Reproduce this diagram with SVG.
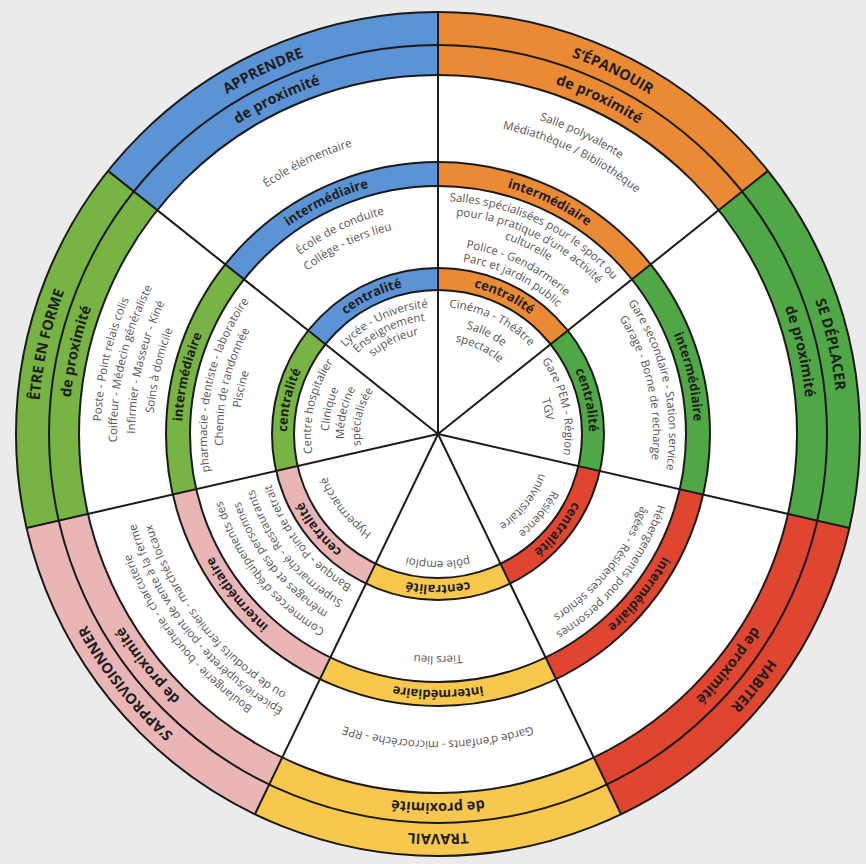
<svg xmlns="http://www.w3.org/2000/svg" width="866" height="864" viewBox="0 0 866 864">
  <style>
    .b-out { stroke-width: 33; }
    .b-prox { stroke-width: 30; }
    .b-mid { stroke-width: 24; }
    .b-cen { stroke-width: 22; }
    text { font-family: "Open Sans", "Liberation Sans", sans-serif; text-anchor: middle; }
    .t-theme { font-size: 14.5px; font-weight: 700; fill: #1e1e1e; }
    .t-prox { font-size: 14.5px; font-weight: 700; fill: #1e1e1e; }
    .t-level { font-size: 13px; font-weight: 700; fill: #1e1e1e; }
    .t-item { font-size: 11.5px; fill: #555555; }
    .rings circle { fill: none; stroke: #1a1a1a; stroke-width: 2; }
    .rays line { stroke: #1a1a1a; stroke-width: 2; }
  </style>
  <defs>
    <!-- band arcs for one sector (from -90deg to -38.571deg), centred on the origin -->
    <path id="arcOut" d="M0,-405.5 A405.5,405.5 0 0 1 317.03,-252.83"/>
    <path id="arcProx" d="M0,-374 A374,374 0 0 1 292.40,-233.19"/>
    <path id="arcMid" d="M0,-260 A260,260 0 0 1 203.28,-162.11"/>
    <path id="arcCen" d="M0,-155 A155,155 0 0 1 121.18,-96.64"/>
    <!-- clockwise text baselines centred on the top of the circle -->
    <path id="r78" d="M-75.34,-20.19 A78,78 0 0 1 75.34,-20.19"/>
    <path id="r94" d="M-90.80,-24.33 A94,94 0 0 1 90.80,-24.33"/>
    <path id="r101" d="M-97.56,-26.14 A101,101 0 0 1 97.56,-26.14"/>
    <path id="r109" d="M-105.29,-28.21 A109,109 0 0 1 105.29,-28.21"/>
    <path id="r114" d="M-110.12,-29.51 A114,114 0 0 1 110.12,-29.51"/>
    <path id="r119" d="M-114.95,-30.80 A119,119 0 0 1 114.95,-30.80"/>
    <path id="r127" d="M-122.67,-32.87 A127,127 0 0 1 122.67,-32.87"/>
    <path id="r151" d="M-145.86,-39.08 A151,151 0 0 1 145.86,-39.08"/>
    <path id="r174" d="M-168.07,-45.03 A174,174 0 0 1 168.07,-45.03"/>
    <path id="r188" d="M-181.59,-48.66 A188,188 0 0 1 181.59,-48.66"/>
    <path id="r192" d="M-185.46,-49.69 A192,192 0 0 1 185.46,-49.69"/>
    <path id="r199" d="M-192.22,-51.51 A199,199 0 0 1 192.22,-51.51"/>
    <path id="r206" d="M-198.98,-53.32 A206,206 0 0 1 198.98,-53.32"/>
    <path id="r209" d="M-201.88,-54.09 A209,209 0 0 1 201.88,-54.09"/>
    <path id="r215" d="M-207.67,-55.65 A215,215 0 0 1 207.67,-55.65"/>
    <path id="r219" d="M-211.54,-56.68 A219,219 0 0 1 211.54,-56.68"/>
    <path id="r222" d="M-214.44,-57.46 A222,222 0 0 1 214.44,-57.46"/>
    <path id="r226" d="M-218.30,-58.49 A226,226 0 0 1 218.30,-58.49"/>
    <path id="r231" d="M-223.13,-59.79 A231,231 0 0 1 223.13,-59.79"/>
    <path id="r233" d="M-225.06,-60.31 A233,233 0 0 1 225.06,-60.31"/>
    <path id="r256" d="M-247.28,-66.26 A256,256 0 0 1 247.28,-66.26"/>
    <path id="r285" d="M-275.29,-73.76 A285,285 0 0 1 275.29,-73.76"/>
    <path id="r300" d="M-289.78,-77.65 A300,300 0 0 1 289.78,-77.65"/>
    <path id="r303" d="M-292.68,-78.42 A303,303 0 0 1 292.68,-78.42"/>
    <path id="r307" d="M-296.54,-79.46 A307,307 0 0 1 296.54,-79.46"/>
    <path id="r312" d="M-301.37,-80.75 A312,312 0 0 1 301.37,-80.75"/>
    <path id="r315" d="M-304.27,-81.53 A315,315 0 0 1 304.27,-81.53"/>
    <path id="r321" d="M-310.06,-83.08 A321,321 0 0 1 310.06,-83.08"/>
    <path id="r330" d="M-318.76,-85.41 A330,330 0 0 1 318.76,-85.41"/>
    <path id="r337" d="M-325.52,-87.22 A337,337 0 0 1 325.52,-87.22"/>
    <path id="r369" d="M-356.43,-95.50 A369,369 0 0 1 356.43,-95.50"/>
    <path id="r400" d="M-386.37,-103.53 A400,400 0 0 1 386.37,-103.53"/>
  </defs>

  <rect width="866" height="864" fill="#ebebeb"/>
  <circle cx="438" cy="434" r="422" fill="#ffffff"/>

  <!-- S'ÉPANOUIR -->
  <g id="s-epanouir" transform="translate(438 434)">
    <g stroke="#ea8a35" fill="none">
      <use href="#arcOut" class="b-out"/>
      <use href="#arcProx" class="b-prox"/>
      <use href="#arcMid" class="b-mid"/>
      <use href="#arcCen" class="b-cen"/>
    </g>
    <g transform="rotate(25.7143)">
      <text class="t-theme"><textPath href="#r400" startOffset="50%">S’ÉPANOUIR</textPath></text>
      <text class="t-prox"><textPath href="#r369" startOffset="50%">de proximité</textPath></text>
      <text class="t-item"><textPath href="#r330" startOffset="50%">Salle polyvalente</textPath></text>
      <text class="t-item"><textPath href="#r312" startOffset="50%">Médiathèque / Bibliothèque</textPath></text>
      <text class="t-level"><textPath href="#r256" startOffset="50%">intermédiaire</textPath></text>
      <text class="t-item"><textPath href="#r233" startOffset="50%">Salles spécialisées pour le sport ou</textPath></text>
      <text class="t-item"><textPath href="#r219" startOffset="50%">pour la pratique d’une activité</textPath></text>
      <text class="t-item"><textPath href="#r206" startOffset="50%">culturelle</textPath></text>
      <text class="t-item"><textPath href="#r188" startOffset="50%">Police - Gendarmerie</textPath></text>
      <text class="t-item"><textPath href="#r174" startOffset="50%">Parc et jardin public</textPath></text>
      <text class="t-level"><textPath href="#r151" startOffset="50%">centralité</textPath></text>
      <text class="t-item"><textPath href="#r127" startOffset="50%">Cinéma - Théâtre</textPath></text>
      <text class="t-item"><textPath href="#r109" startOffset="50%">Salle de</textPath></text>
      <text class="t-item"><textPath href="#r94" startOffset="50%">spectacle</textPath></text>
    </g>
  </g>

  <!-- SE DÉPLACER -->
  <g id="se-deplacer" transform="translate(438 434) rotate(51.4286)">
    <g stroke="#4fa845" fill="none">
      <use href="#arcOut" class="b-out"/>
      <use href="#arcProx" class="b-prox"/>
      <use href="#arcMid" class="b-mid"/>
      <use href="#arcCen" class="b-cen"/>
    </g>
    <g transform="rotate(25.7143)">
      <text class="t-theme"><textPath href="#r400" startOffset="50%">SE DÉPLACER</textPath></text>
      <text class="t-prox"><textPath href="#r369" startOffset="50%">de proximité</textPath></text>
      <text class="t-level"><textPath href="#r256" startOffset="50%">intermédiaire</textPath></text>
      <text class="t-item"><textPath href="#r231" startOffset="50%">Gare secondaire - Station service</textPath></text>
      <text class="t-item"><textPath href="#r215" startOffset="50%">Garage - Borne de recharge</textPath></text>
      <text class="t-level"><textPath href="#r151" startOffset="50%">centralité</textPath></text>
      <text class="t-item"><textPath href="#r127" startOffset="50%">Gare PEM - Région</textPath></text>
      <text class="t-item"><textPath href="#r109" startOffset="50%">TGV</textPath></text>
    </g>
  </g>

  <!-- HABITER -->
  <g id="habiter" transform="translate(438 434) rotate(102.8571)">
    <g stroke="#e0452f" fill="none">
      <use href="#arcOut" class="b-out"/>
      <use href="#arcProx" class="b-prox"/>
      <use href="#arcMid" class="b-mid"/>
      <use href="#arcCen" class="b-cen"/>
    </g>
    <g transform="rotate(25.7143)">
      <text class="t-theme"><textPath href="#r400" startOffset="50%">HABITER</textPath></text>
      <text class="t-prox"><textPath href="#r369" startOffset="50%">de proximité</textPath></text>
      <text class="t-level"><textPath href="#r256" startOffset="50%">intermédiaire</textPath></text>
      <text class="t-item"><textPath href="#r231" startOffset="50%">Hébergements pour personnes</textPath></text>
      <text class="t-item"><textPath href="#r215" startOffset="50%">âgées - Résidences séniors</textPath></text>
      <text class="t-level"><textPath href="#r151" startOffset="50%">centralité</textPath></text>
      <text class="t-item"><textPath href="#r127" startOffset="50%">Résidence</textPath></text>
      <text class="t-item"><textPath href="#r109" startOffset="50%">universitaire</textPath></text>
    </g>
  </g>

  <!-- TRAVAIL -->
  <g id="travail" transform="translate(438 434) rotate(154.2857)">
    <g stroke="#f7c84d" fill="none">
      <use href="#arcOut" class="b-out"/>
      <use href="#arcProx" class="b-prox"/>
      <use href="#arcMid" class="b-mid"/>
      <use href="#arcCen" class="b-cen"/>
    </g>
    <g transform="rotate(25.7143)">
      <text class="t-theme"><textPath href="#r400" startOffset="50%">TRAVAIL</textPath></text>
      <text class="t-prox"><textPath href="#r369" startOffset="50%">de proximité</textPath></text>
      <text class="t-item"><textPath href="#r307" startOffset="50%">Garde d’enfants - microcrèche - RPE</textPath></text>
      <text class="t-level"><textPath href="#r256" startOffset="50%">intermédiaire</textPath></text>
      <text class="t-item"><textPath href="#r222" startOffset="50%">Tiers lieu</textPath></text>
      <text class="t-level"><textPath href="#r151" startOffset="50%">centralité</textPath></text>
      <text class="t-item"><textPath href="#r127" startOffset="50%">pôle emploi</textPath></text>
    </g>
  </g>

  <!-- S'APPROVISIONNER -->
  <g id="s-approvisionner" transform="translate(438 434) rotate(205.7143)">
    <g stroke="#e9b6b5" fill="none">
      <use href="#arcOut" class="b-out"/>
      <use href="#arcProx" class="b-prox"/>
      <use href="#arcMid" class="b-mid"/>
      <use href="#arcCen" class="b-cen"/>
    </g>
    <g transform="rotate(25.7143)">
      <text class="t-theme"><textPath href="#r400" startOffset="50%">S’APPROVISIONNER</textPath></text>
      <text class="t-prox"><textPath href="#r369" startOffset="50%">de proximité</textPath></text>
      <text class="t-item"><textPath href="#r330" startOffset="50%">Boulangerie - boucherie - charcuterie</textPath></text>
      <text class="t-item"><textPath href="#r315" startOffset="50%">Épicerie/supérette - point de vente à la ferme</textPath></text>
      <text class="t-item"><textPath href="#r300" startOffset="50%">ou de produits fermiers - marchés locaux</textPath></text>
      <text class="t-level"><textPath href="#r256" startOffset="50%">intermédiaire</textPath></text>
      <text class="t-item"><textPath href="#r226" startOffset="50%">Commerces d’équipements des</textPath></text>
      <text class="t-item"><textPath href="#r209" startOffset="50%">ménages et des personnes</textPath></text>
      <text class="t-item"><textPath href="#r192" startOffset="50%">Supermarché - Restaurants</textPath></text>
      <text class="t-item"><textPath href="#r174" startOffset="50%">Banque - Point de retrait</textPath></text>
      <text class="t-level"><textPath href="#r151" startOffset="50%">centralité</textPath></text>
      <text class="t-item"><textPath href="#r119" startOffset="50%">Hypermarché</textPath></text>
    </g>
  </g>

  <!-- ÊTRE EN FORME -->
  <g id="etre-en-forme" transform="translate(438 434) rotate(257.1429)">
    <g stroke="#78b443" fill="none">
      <use href="#arcOut" class="b-out"/>
      <use href="#arcProx" class="b-prox"/>
      <use href="#arcMid" class="b-mid"/>
      <use href="#arcCen" class="b-cen"/>
    </g>
    <g transform="rotate(25.7143)">
      <text class="t-theme"><textPath href="#r400" startOffset="50%">ÊTRE EN FORME</textPath></text>
      <text class="t-prox"><textPath href="#r369" startOffset="50%">de proximité</textPath></text>
      <text class="t-item"><textPath href="#r337" startOffset="50%">Poste - Point relais colis</textPath></text>
      <text class="t-item"><textPath href="#r321" startOffset="50%">Coiffeur - Médecin généraliste</textPath></text>
      <text class="t-item"><textPath href="#r303" startOffset="50%">Infirmier - Masseur - Kiné</textPath></text>
      <text class="t-item"><textPath href="#r285" startOffset="50%">Soins à domicile</textPath></text>
      <text class="t-level"><textPath href="#r256" startOffset="50%">intermédiaire</textPath></text>
      <text class="t-item"><textPath href="#r231" startOffset="50%">pharmacie - dentiste - laboratoire</textPath></text>
      <text class="t-item"><textPath href="#r215" startOffset="50%">Chemin de randonnée</textPath></text>
      <text class="t-item"><textPath href="#r199" startOffset="50%">Piscine</textPath></text>
      <text class="t-level"><textPath href="#r151" startOffset="50%">centralité</textPath></text>
      <text class="t-item"><textPath href="#r127" startOffset="50%">Centre hospitalier</textPath></text>
      <text class="t-item"><textPath href="#r109" startOffset="50%">Clinique</textPath></text>
      <text class="t-item"><textPath href="#r94" startOffset="50%">Médecine</textPath></text>
      <text class="t-item"><textPath href="#r78" startOffset="50%">spécialisée</textPath></text>
    </g>
  </g>

  <!-- APPRENDRE -->
  <g id="apprendre" transform="translate(438 434) rotate(308.5714)">
    <g stroke="#5b93d4" fill="none">
      <use href="#arcOut" class="b-out"/>
      <use href="#arcProx" class="b-prox"/>
      <use href="#arcMid" class="b-mid"/>
      <use href="#arcCen" class="b-cen"/>
    </g>
    <g transform="rotate(25.7143)">
      <text class="t-theme"><textPath href="#r400" startOffset="50%">APPRENDRE</textPath></text>
      <text class="t-prox"><textPath href="#r369" startOffset="50%">de proximité</textPath></text>
      <text class="t-item"><textPath href="#r300" startOffset="50%">École élémentaire</textPath></text>
      <text class="t-level"><textPath href="#r256" startOffset="50%">intermédiaire</textPath></text>
      <text class="t-item"><textPath href="#r226" startOffset="50%">École de conduite</textPath></text>
      <text class="t-item"><textPath href="#r209" startOffset="50%">Collège - tiers lieu</textPath></text>
      <text class="t-level"><textPath href="#r151" startOffset="50%">centralité</textPath></text>
      <text class="t-item"><textPath href="#r127" startOffset="50%">Lycée - Université</textPath></text>
      <text class="t-item"><textPath href="#r114" startOffset="50%">Enseignement</textPath></text>
      <text class="t-item"><textPath href="#r101" startOffset="50%">supérieur</textPath></text>
    </g>
  </g>

  <!-- ring outlines -->
  <g id="rings" class="rings">
    <circle cx="438" cy="434" r="422"/>
    <circle cx="438" cy="434" r="389"/>
    <circle cx="438" cy="434" r="359"/>
    <circle cx="438" cy="434" r="272"/>
    <circle cx="438" cy="434" r="248"/>
    <circle cx="438" cy="434" r="166"/>
    <circle cx="438" cy="434" r="144"/>
  </g>

  <!-- sector dividers -->
  <g id="connectors" class="rays" transform="translate(438 434)">
    <line x2="0" y2="-422"/>
    <line x2="0" y2="-422" transform="rotate(51.4286)"/>
    <line x2="0" y2="-422" transform="rotate(102.8571)"/>
    <line x2="0" y2="-422" transform="rotate(154.2857)"/>
    <line x2="0" y2="-422" transform="rotate(205.7143)"/>
    <line x2="0" y2="-422" transform="rotate(257.1429)"/>
    <line x2="0" y2="-422" transform="rotate(308.5714)"/>
  </g>
</svg>
